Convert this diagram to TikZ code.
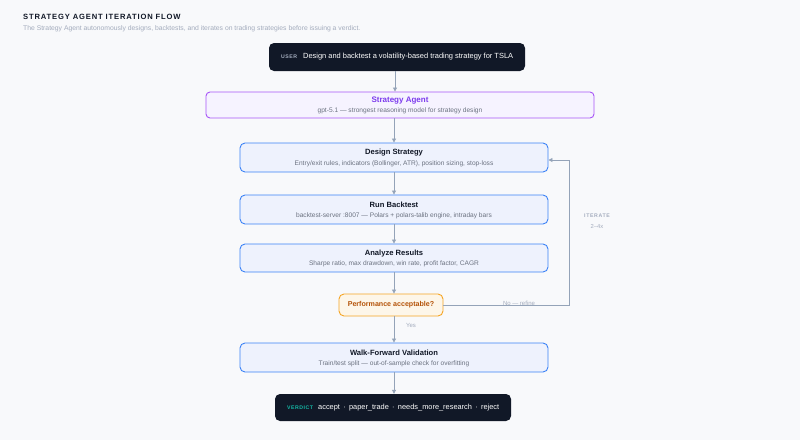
\documentclass[tikz,border=0pt]{standalone}
\usepackage{fontspec}
\setmainfont{Liberation Sans}
\usetikzlibrary{arrows.meta}
\definecolor{bg}{HTML}{F8F9FB}
\definecolor{darkbox}{HTML}{111827}
\definecolor{bluebd}{HTML}{3B82F6}
\definecolor{bluefill}{HTML}{EEF2FD}
\definecolor{purpbd}{HTML}{A855F7}
\definecolor{purpfill}{HTML}{F6F3FF}
\definecolor{purptext}{HTML}{7C3AED}
\definecolor{orangebd}{HTML}{F5A524}
\definecolor{orangefill}{HTML}{FDF6E9}
\definecolor{orangetext}{HTML}{B45309}
\definecolor{subgray}{HTML}{6B7280}
\definecolor{lightgray}{HTML}{A3ACBD}
\definecolor{arrowc}{HTML}{94A3B8}
\definecolor{titlec}{HTML}{111827}
\definecolor{teal}{HTML}{14B8A6}
\tikzset{
  stepbox/.style={draw=bluebd, fill=bluefill, line width=0.9pt, rounded corners=5pt,
    minimum width=308pt, minimum height=29pt, inner sep=0pt, align=center},
  darkbox/.style={fill=darkbox, rounded corners=5pt, minimum height=28pt, inner sep=0pt},
  arr/.style={draw=arrowc, line width=0.8pt, -{Triangle[length=4pt,width=4pt]}},
  ttl/.style={font=\bfseries\fontsize{7.6}{9}\selectfont, text=titlec},
  sub/.style={font=\fontsize{6.6}{8}\selectfont, text=subgray},
}
\begin{document}
\begin{tikzpicture}[x=1pt,y=-1pt]
\fill[bg] (0,0) rectangle (800,440);
\useasboundingbox (0,0) rectangle (800,440);
% title
\node[anchor=west, inner sep=0pt, font=\bfseries\fontsize{7.6}{9}\selectfont\addfontfeatures{LetterSpace=11}, text=titlec] (title) at (23,17) {STRATEGY AGENT ITERATION FLOW};
\node[anchor=west, inner sep=0pt, font=\fontsize{6.8}{8}\selectfont, text=lightgray] (subtitle) at (23,29) {The Strategy Agent autonomously designs, backtests, and iterates on trading strategies before issuing a verdict.};
% user
\node[darkbox, minimum width=256pt] (user) at (397,57) {};
\node[anchor=west, inner sep=0pt, font=\bfseries\fontsize{5.2}{6}\selectfont\addfontfeatures{LetterSpace=10}, text=lightgray] (userlbl) at (281,57) {USER};
\node[anchor=west, inner sep=0pt, font=\fontsize{7.45}{9}\selectfont, text=white] (usertxt) at (303,57) {Design and backtest a volatility-based trading strategy for TSLA};
% strategy agent
\node[draw=purpbd, fill=purpfill, line width=0.9pt, rounded corners=4pt, minimum width=388pt, minimum height=26pt, inner sep=0pt] (agent) at (400,105) {};
\node[font=\bfseries\fontsize{8}{9}\selectfont, text=purptext, inner sep=0pt] (agentt) at (400,101) {Strategy Agent};
\node[sub, inner sep=0pt] (agents) at (400,111) {gpt-5.1 — strongest reasoning model for strategy design};
% steps
\node[stepbox] (design) at (394,157.5) {};
\node[ttl, inner sep=0pt] at (394,153) {Design Strategy};
\node[sub, inner sep=0pt] at (394,164) {Entry/exit rules, indicators (Bollinger, ATR), position sizing, stop-loss};
\node[stepbox] (run) at (394,209.5) {};
\node[ttl, inner sep=0pt] at (394,205) {Run Backtest};
\node[sub, inner sep=0pt] at (394,215.5) {backtest-server :8007 — Polars + polars-talib engine, intraday bars};
\node[stepbox, minimum height=28pt] (anal) at (394,258) {};
\node[ttl, inner sep=0pt] at (394,253.5) {Analyze Results};
\node[sub, inner sep=0pt] at (394,264) {Sharpe ratio, max drawdown, win rate, profit factor, CAGR};
\node[draw=orangebd, fill=orangefill, line width=0.9pt, rounded corners=5pt, minimum width=104pt, minimum height=22pt, inner sep=0pt, font=\bfseries\fontsize{7.1}{8}\selectfont, text=orangetext] (dec) at (391,305) {Performance acceptable?};
\node[stepbox] (wf) at (394,357.5) {};
\node[ttl, inner sep=0pt] at (394,353) {Walk-Forward Validation};
\node[sub, inner sep=0pt] at (394,363.5) {Train/test split — out-of-sample check for overfitting};
% verdict
\node[darkbox, minimum width=236pt, minimum height=27pt] (verdict) at (393,407.5) {};
\node[anchor=west, inner sep=0pt, font=\bfseries\fontsize{5.2}{6}\selectfont\addfontfeatures{LetterSpace=10}, text=teal] (vlbl) at (287,407.5) {VERDICT};
\node[anchor=west, inner sep=0pt, font=\fontsize{7.4}{9}\selectfont, text=white] (vtxt) at (318,407.5) {accept \,·\, paper\_trade \,·\, needs\_more\_research \,·\, reject};
% arrows
\draw[arr] (395,71) -- (agent.north -| 395,0);
\draw[arr] (agent.south -| 394,0) -- (design.north);
\draw[arr] (design.south) -- (run.north);
\draw[arr] (run.south) -- (anal.north);
\draw[arr] (anal.south) -- (dec.north -| anal.south);
\draw[arr] (dec.south -| wf.north) -- (wf.north);
\draw[arr] (wf.south) -- (verdict.north -| wf.south);
\node[anchor=west, inner sep=0pt, font=\fontsize{6}{7}\selectfont, text=lightgray] (yes) at (406,325) {Yes};
% loop
\coordinate (c1) at (569,305);
\coordinate (c2) at (569,160);
\draw[draw=arrowc, line width=0.9pt] (dec.east) -- (c1) -- (c2);
\draw[arr] (c2) -- (design.east |- c2);
\node[inner sep=0pt, font=\fontsize{6}{7}\selectfont, text=lightgray] (no) at (519,303) {No — refine};
\node[inner sep=0pt, font=\bfseries\fontsize{5.2}{6}\selectfont\addfontfeatures{LetterSpace=12}, text=lightgray] (it1) at (597,216) {ITERATE};
\node[inner sep=0pt, font=\fontsize{5.8}{6}\selectfont, text=lightgray] (it2) at (597,226) {2–4x};
\end{tikzpicture}
\end{document}
